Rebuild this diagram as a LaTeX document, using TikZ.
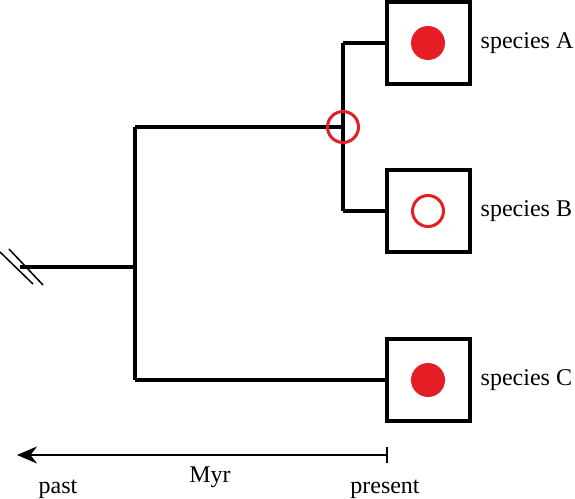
\documentclass[tikz,border=0pt]{standalone}
\usepackage{fontspec}
\setmainfont{Liberation Serif}
\usetikzlibrary{arrows.meta, positioning}
\definecolor{trait}{RGB}{228,30,36}

\begin{document}
\begin{tikzpicture}[x=1pt, y=-1pt,
  branch/.style={line width=4pt},
  sppbox/.style={draw, line width=4pt, minimum width=83pt, minimum height=82pt, inner sep=0pt},
  present/.style={circle, fill=trait, minimum size=34pt, inner sep=0pt},
  absent/.style={circle, draw=trait, line width=3pt, minimum size=31pt, inner sep=0pt},
  sppname/.style={font=\fontsize{24}{28}\selectfont, inner sep=0pt},
]
  \useasboundingbox (0,0) rectangle (575,498);

  \node[sppbox] (boxA) at (428,43)  {};
  \node[sppbox] (boxB) at (428,211) {};
  \node[sppbox] (boxC) at (428,380) {};
  \node[present] (dotA) at (boxA.center) {};
  \node[absent]  (dotB) at (boxB.center) {};
  \node[present] (dotC) at (boxC.center) {};
  \node[sppname, right=9pt of boxA] (nameA) {species A};
  \node[sppname, right=9pt of boxB] (nameB) {species B};
  \node[sppname, right=9pt of boxC] (nameC) {species C};

  \coordinate (root) at (20,267);
  \coordinate (rootj) at (135,267);
  \coordinate (up) at (135,127);
  \coordinate (low) at (135,380);
  \coordinate (ab) at (343,127);
  \coordinate (abA) at (343,43);
  \coordinate (abB) at (343,211);

  \draw[branch] (root) -- (rootj);
  \draw[branch] (up) -- (low);
  \draw[branch] (up) -- (ab);
  \draw[branch] (abA) -- (abB);
  \draw[branch] (abA) -- (boxA.west);
  \draw[branch] (abB) -- (boxB.west);
  \draw[branch] (low) -- (boxC.west);
  \node[absent] (gain) at (ab) {};

  \draw[line width=1.5pt] (0,252) -- (33,284);
  \draw[line width=1.5pt] (9,249) -- (43,285);

  \coordinate (now) at (387,455);
  \coordinate (then) at (17,455);
  \draw[line width=2pt, -{Stealth[length=20pt, width=17pt]}] (now) -- (then);
  \draw[line width=2pt] (387,447) -- (387,463);
  \node[sppname, anchor=base] (myr) at (210,482) {Myr};
  \node[sppname, anchor=base] (past) at (58,493) {past};
  \node[sppname, anchor=base] (pres) at (385,493) {present};
\end{tikzpicture}
\end{document}
